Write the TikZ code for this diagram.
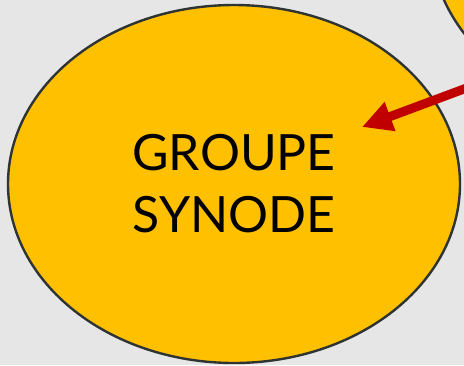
\documentclass[tikz,border=0pt]{standalone}
\usepackage{fontspec}
\setmainfont{Lato}
\usetikzlibrary{arrows.meta,shapes.geometric}
\definecolor{bg}{HTML}{E7E6E6}
\definecolor{gold}{HTML}{FFC000}
\definecolor{rim}{HTML}{2E3333}
\definecolor{arrowred}{HTML}{C00000}
\begin{document}
\begin{tikzpicture}[x=1pt,y=-1pt,
  bubble/.style={ellipse, draw=rim, line width=2.4pt, fill=gold, inner sep=0pt,
    minimum width=452pt, minimum height=358pt},
  bubbletext/.style={font=\fontsize{50}{62}\selectfont, align=center, text=black},
  link/.style={draw=arrowred, line width=9pt, -{Triangle[length=30pt,width=29pt]}}]
\useasboundingbox (0,0) rectangle (464,365);
\fill[bg] (0,0) rectangle (464,365);
\begin{scope}
\clip (0,0) rectangle (464,365);
\node[bubble] (other) at (657,-60) {};
\node[bubble, bubbletext] (synode) at (234,184) {GROUPE\\SYNODE};
\coordinate (src) at (490,79.3);
\coordinate (tip) at (362,127);
\draw[link] (src) -- (tip);
\end{scope}
\end{tikzpicture}
\end{document}
